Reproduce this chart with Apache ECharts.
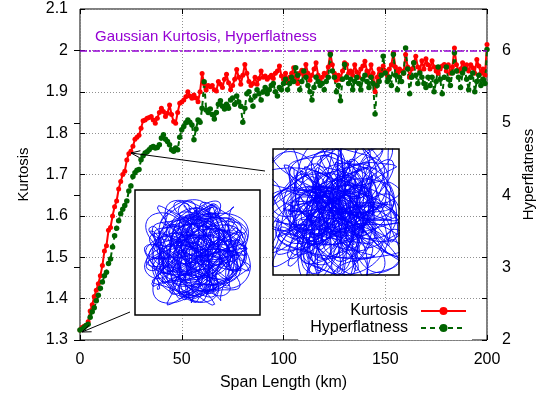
<!DOCTYPE html>
<html><head><meta charset="utf-8">
<script src="https://cdn.jsdelivr.net/npm/echarts@6/dist/echarts.min.js"></script>
<style>html,body{margin:0;padding:0;background:#fff}#c{width:545px;height:396px}</style>
</head><body><div id="c"></div>
<script>
// Span length step (km) between successive samples, starting at 0 km
const kmStep = 1;
const xTicks = [0, 50, 100, 150, 200];
const kurtosisTicks = [1.3, 1.4, 1.5, 1.6, 1.7, 1.8, 1.9, 2, 2.1];
const hyperTicks = [2, 3, 4, 5, 6];
const gaussianKurtosis = 2;
const gaussianLabel = 'Gaussian Kurtosis, Hyperflatness';

// Kurtosis (left axis), one value per km from 0 to 200
const kurtosis = [
1.324,1.330,1.333,1.335,1.344,1.370,1.385,1.405,1.420,1.436,
1.455,1.480,1.515,1.528,1.565,1.572,1.600,1.622,1.636,1.665,
1.683,1.700,1.708,1.735,1.750,1.756,1.768,1.785,1.790,1.795,
1.812,1.830,1.832,1.836,1.838,1.840,1.832,1.824,1.836,1.850,
1.860,1.852,1.840,1.848,1.868,1.845,1.828,1.824,1.850,1.872,
1.875,1.880,1.888,1.900,1.890,1.884,1.892,1.885,1.876,1.900,
1.944,1.920,1.904,1.915,1.912,
1.915,1.905,1.902,1.925,1.918,1.910,1.930,1.942,1.922,1.905,
1.915,1.930,1.954,1.935,1.918,1.940,1.966,1.945,1.925,1.915,
1.920,1.935,1.918,1.932,1.950,1.935,1.938,1.930,1.935,1.940,
1.932,1.945,1.950,1.962,1.938,1.930,1.945,1.925,1.935,1.945,
1.958,1.935,1.920,1.945,1.952,1.940,1.966,1.945,1.928,1.940,
1.955,1.970,1.940,1.925,1.935,1.945,1.940,1.960,1.994,1.965,
1.945,1.928,1.940,1.930,1.950,1.970,1.966,1.945,1.950,1.940,
1.965,1.948,1.935,1.955,1.962,1.974,1.950,1.940,1.965,1.945,
1.900,1.935,1.955,1.945,1.962,1.950,1.940,1.955,1.965,1.994,
1.960,1.945,1.955,1.950,1.945,1.990,1.960,1.935,1.955,1.970,
1.986,1.960,1.950,1.975,1.955,1.980,1.965,1.955,1.975,1.960,
1.950,1.945,1.955,1.962,1.966,1.950,1.965,1.945,1.960,2.006,
1.965,1.950,1.955,1.970,1.960,1.965,1.950,1.965,1.958,1.945,
1.978,1.962,1.945,1.955,1.940,2.014
];

// Hyperflatness (right axis), one value per km from 0 to 200
const hyperflatness = [
2.137,2.149,2.171,2.200,2.217,2.314,2.389,2.446,2.543,2.617,
2.714,2.800,2.886,2.937,3.057,3.120,3.286,3.440,3.543,3.646,
3.743,3.806,3.857,3.920,4.057,4.126,4.257,4.309,4.343,4.354,
4.491,4.543,4.583,4.600,4.629,4.657,4.674,4.651,4.657,4.697,
4.789,4.834,4.771,4.743,4.697,4.629,4.606,4.651,4.629,4.800,
4.903,4.949,5.000,5.040,5.006,4.971,4.766,4.914,5.040,5.006,
5.200,5.566,5.177,5.143,5.189,5.114,5.051,5.143,5.257,5.303,
5.229,5.189,5.257,5.200,5.314,5.343,5.257,5.371,5.286,5.229,
5.006,5.200,5.400,5.429,5.314,5.229,5.371,5.457,5.400,5.314,
5.429,5.486,5.400,5.457,5.514,5.543,5.429,5.371,5.486,5.457,
5.543,5.600,5.457,5.543,5.629,5.571,5.760,5.657,5.457,5.571,
5.714,5.629,5.514,5.429,5.314,5.486,5.629,5.571,5.514,5.543,
5.457,5.571,5.629,5.943,5.714,5.629,5.429,5.514,5.303,5.600,
5.806,5.629,5.543,5.600,5.457,5.571,5.629,5.543,5.457,5.600,
5.657,5.571,5.486,5.629,5.543,5.120,5.514,5.571,5.657,5.920,
5.686,5.571,5.629,5.514,5.943,5.657,5.457,5.629,5.571,5.686,
6.034,5.743,5.400,5.629,5.829,5.657,5.543,5.686,5.629,5.543,
5.486,5.629,5.514,5.629,5.429,5.571,5.771,5.600,5.400,5.629,
5.771,5.600,5.514,5.686,5.966,5.714,5.629,5.486,5.686,5.743,
5.600,5.457,5.629,5.686,5.429,5.571,5.657,5.514,5.600,5.543,
6.011
];

// Inset trajectory pictures: harmonic terms [amplitude, frequency, phase]
const insetA_x = [[0.50,1.00,0.0],[0.30,0.21,1.0],[0.12,3.30,0.0]];
const insetA_y = [[0.50,1.04,0.3],[0.30,0.17,0.0],[0.12,2.90,1.0]];
const insetB_x = [[0.45,1.00,0.0],[0.38,2.37,1.0],[0.32,0.41,2.0],[0.14,5.10,0.3]];
const insetB_y = [[0.45,1.13,0.5],[0.38,2.71,2.0],[0.32,0.37,0.0],[0.14,4.70,1.0]];

function trace(xt, yt, tMax, dt) {
  const pts = [];
  for (let t = 0; t <= tMax; t += dt) {
    let x = 0, y = 0;
    for (const [a, f, p] of xt) x += a * Math.cos(f * t + p);
    for (const [a, f, p] of yt) y += a * Math.sin(f * t + p);
    pts.push([x, y]);
  }
  return pts;
}

const FONT = '"Liberation Sans", Arial, Helvetica, sans-serif';
const chart = echarts.init(document.getElementById('c'), null, {renderer: 'canvas'});

const gridDot = {show: true, lineStyle: {color: '#909090', type: [1, 2], width: 1}};
const tickLbl = {fontSize: 16, color: '#000', fontFamily: FONT};

function arrow(x1, y1, x2, y2) {
  const dx = x2 - x1, dy = y2 - y1, L = Math.hypot(dx, dy);
  const ux = dx / L, uy = dy / L, hl = 9, hw = 3.5;
  const bx = x2 - ux * hl, by = y2 - uy * hl;
  return [
    {type: 'line', z: 20, shape: {x1, y1, x2, y2}, style: {stroke: '#000', lineWidth: 1}},
    {type: 'polyline', z: 20, shape: {points: [[bx - uy * hw, by + ux * hw], [x2, y2], [bx + uy * hw, by - ux * hw]]},
     style: {stroke: '#000', lineWidth: 1, fill: null}}
  ];
}

const option = {
  animation: false,
  backgroundColor: '#fff',
  grid: [
    {left: 80, right: 58, top: 9, bottom: 56, show: true, borderColor: '#000', borderWidth: 1, backgroundColor: 'transparent'},
    {left: 135, top: 190, width: 125, height: 125},
    {left: 273, top: 149, width: 126, height: 126}
  ],
  xAxis: [
    {type: 'value', gridIndex: 0, min: xTicks[0], max: xTicks[xTicks.length - 1], interval: 50,
     name: 'Span Length (km)', nameLocation: 'middle', nameGap: 35,
     nameTextStyle: {fontSize: 16, color: '#000', fontFamily: FONT},
     axisLine: {show: false}, axisTick: {show: true, inside: true, length: 5, lineStyle: {color: '#000'}},
     axisLabel: Object.assign({margin: 12}, tickLbl), splitLine: gridDot},
    {type: 'value', gridIndex: 0, position: 'top', min: xTicks[0], max: xTicks[xTicks.length - 1], interval: 50,
     axisLine: {show: false}, axisTick: {show: true, inside: true, length: 5, lineStyle: {color: '#000'}},
     axisLabel: {show: false}, splitLine: {show: false}},
    {type: 'value', gridIndex: 1, min: -1.08, max: 1.08, show: false},
    {type: 'value', gridIndex: 2, min: -1.0, max: 1.0, show: false}
  ],
  yAxis: [
    {type: 'value', gridIndex: 0, position: 'left', min: kurtosisTicks[0], max: kurtosisTicks[kurtosisTicks.length - 1], interval: 0.1,
     name: 'Kurtosis', nameLocation: 'middle', nameGap: 49, nameRotate: 90,
     nameTextStyle: {fontSize: 15, color: '#000', fontFamily: FONT},
     axisLine: {show: false}, axisTick: {show: true, inside: true, length: 5, lineStyle: {color: '#000'}},
     axisLabel: Object.assign({margin: 12, formatter: v => String(parseFloat(v.toFixed(2)))}, tickLbl),
     splitLine: gridDot},
    {type: 'value', gridIndex: 0, position: 'right', min: hyperTicks[0], max: 2 + 32 / 7, interval: 1,
     name: 'Hyperflatness', nameLocation: 'middle', nameGap: 32, nameRotate: 90,
     nameTextStyle: {fontSize: 15, color: '#000', fontFamily: FONT},
     axisLine: {show: false}, axisTick: {show: true, inside: true, length: 6, lineStyle: {color: '#000'}},
     axisLabel: Object.assign({margin: 15, showMaxLabel: false,
       formatter: v => (hyperTicks.indexOf(Math.round(v * 1000) / 1000) >= 0 ? String(Math.round(v)) : '')}, tickLbl),
     splitLine: {show: false}},
    {type: 'value', gridIndex: 0, position: 'right', offset: 0, min: kurtosisTicks[0], max: kurtosisTicks[kurtosisTicks.length - 1], interval: 0.1,
     axisLine: {show: false}, axisTick: {show: true, inside: true, length: 5, lineStyle: {color: '#000'}},
     axisLabel: {show: false}, splitLine: {show: false}},
    {type: 'value', gridIndex: 1, min: -1.08, max: 1.08, show: false},
    {type: 'value', gridIndex: 2, min: -1.0, max: 1.0, show: false}
  ],
  legend: {
    data: ['Kurtosis', 'Hyperflatness'], orient: 'vertical', right: 73, top: 303, align: 'right',
    itemWidth: 45, itemHeight: 10, itemGap: 1, padding: [0, 5, 4, 12], backgroundColor: '#fff', z: 15,
    textStyle: {fontSize: 16, lineHeight: 16, color: '#000', fontFamily: FONT, padding: [0, 8, 0, 0]}
  },
  series: [
    {name: 'Kurtosis', type: 'line', xAxisIndex: 0, yAxisIndex: 0,
     data: kurtosis.map((v, i) => [i * kmStep, v]),
     symbol: 'circle', symbolSize: 5, showAllSymbol: true,
     lineStyle: {color: '#ff0000', width: 2}, itemStyle: {color: '#ff0000'},
     markLine: {silent: true, symbol: 'none', animation: false, label: {show: false},
       lineStyle: {color: '#9400d3', width: 1.6, type: [7, 2, 2, 2]}, data: [{yAxis: gaussianKurtosis}]}},
    {name: 'Hyperflatness', type: 'line', xAxisIndex: 0, yAxisIndex: 1,
     data: hyperflatness.map((v, i) => [i * kmStep, v]),
     symbol: 'circle', symbolSize: 5.5, showAllSymbol: true,
     lineStyle: {color: '#006400', width: 2, type: [5, 4]}, itemStyle: {color: '#006400'}},
    {type: 'line', xAxisIndex: 2, yAxisIndex: 3, data: trace(insetA_x, insetA_y, 420, 0.04),
     symbol: 'none', z: 10, lineStyle: {color: '#0000ff', width: 0.9}, silent: true},
    {type: 'line', xAxisIndex: 3, yAxisIndex: 4, data: trace(insetB_x, insetB_y, 300, 0.04),
     symbol: 'none', z: 10, lineStyle: {color: '#0000ff', width: 0.9}, silent: true}
  ],
  graphic: [
    {type: 'rect', z: 5, shape: {x: 135, y: 190, width: 125, height: 125}, style: {fill: '#fff'}},
    {type: 'rect', z: 5, shape: {x: 273, y: 149, width: 126, height: 126}, style: {fill: '#fff'}},
    {type: 'rect', z: 20, shape: {x: 135, y: 190, width: 125, height: 125}, style: {fill: null, stroke: '#000', lineWidth: 1.5}},
    {type: 'rect', z: 20, shape: {x: 273, y: 149, width: 126, height: 126}, style: {fill: null, stroke: '#000', lineWidth: 1.5}},
    {type: 'text', z: 20, x: 95, y: 37, style: {text: gaussianLabel, fill: '#9400d3', font: '15px ' + FONT, textVerticalAlign: 'middle'}}
  ].concat(arrow(130, 312, 82, 332), arrow(265, 171, 131, 153))
};
chart.setOption(option);
</script></body></html>
